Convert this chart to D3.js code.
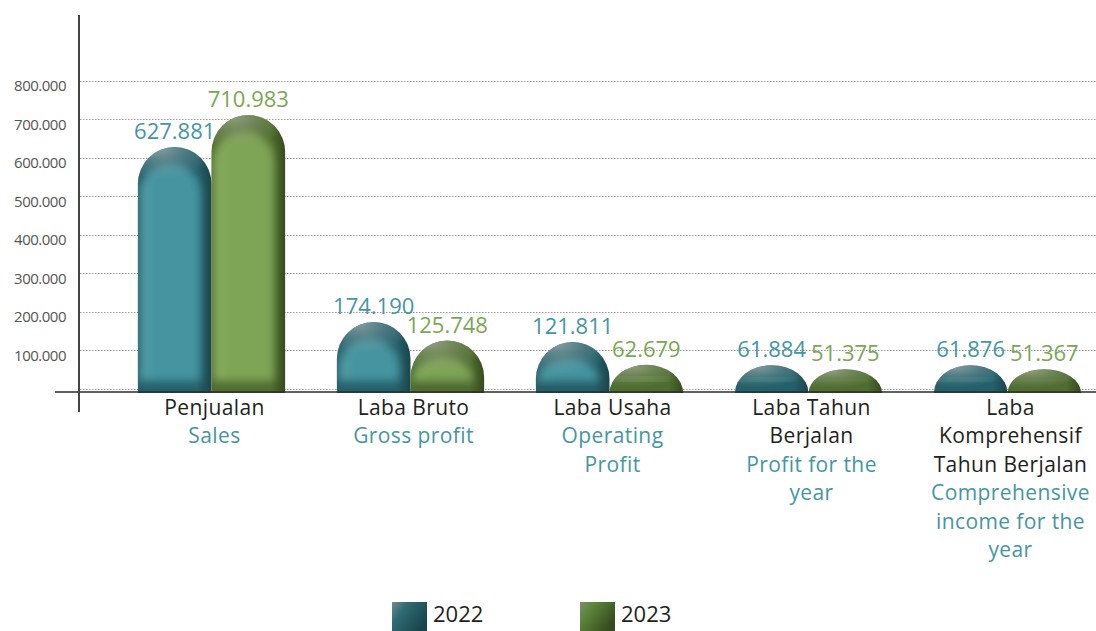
<!DOCTYPE html>
<html><head><meta charset="utf-8">
<script src="https://cdn.jsdelivr.net/npm/d3@7"></script>
<style>html,body{margin:0;padding:0;background:#fff}svg{display:block}</style>
</head><body>
<svg id="chart" width="1096" height="631"></svg>
<script>
const categories = ["Penjualan","Laba Bruto","Laba Usaha","Laba Tahun Berjalan","Laba Komprehensif Tahun Berjalan"];
const labelsId = [["Penjualan"],["Laba Bruto"],["Laba Usaha"],["Laba Tahun","Berjalan"],["Laba","Komprehensif","Tahun Berjalan"]];
const labelsEn = [["Sales"],["Gross profit"],["Operating","Profit"],["Profit for the","year"],["Comprehensive","income for the","year"]];
const seriesNames = ["2022","2023"];
const values2022 = [627881,174190,121811,61884,61876];
const values2023 = [710983,125748,62679,51375,51367];
const yTicks = [100000,200000,300000,400000,500000,600000,700000,800000];

const W=1096,H=631;
const svg=d3.select("#chart");
const loc=d3.formatLocale({decimal:",",thousands:".",grouping:[3],currency:["",""]});
const fmt=loc.format(",d");
const FONT="'Open Sans', sans-serif";
const pal={
  "2022":{text:"#4596a1",main:"#4494a0",left:"#559ea9",dark:"#25606a",edge:"#1b454c",hi:"#90a6a8"},
  "2023":{text:"#7ba653",main:"#7ea455",left:"#8ab062",dark:"#4f6d30",edge:"#364b1f",hi:"#9aa58a"}
};

const x=d3.scaleBand().domain(categories).range([112,1107]).paddingInner(0.26).paddingOuter(0.13);
const xs=d3.scaleBand().domain(seriesNames).range([0,x.bandwidth()]).padding(0);
const y=d3.scaleLinear().domain([0,800000]).range([389,80.7]);

const defs=svg.append("defs");
defs.append("filter").attr("id","blur").attr("x","-20%").attr("y","-20%").attr("width","140%").attr("height","140%")
  .append("feGaussianBlur").attr("stdDeviation",4);
seriesNames.forEach(s=>{
  const p=pal[s];
  // outer: dark with darker right edge
  const g=defs.append("linearGradient").attr("id","outer"+s).attr("x1",0).attr("x2",1).attr("y1",0).attr("y2",0);
  [[0,p.dark],[0.8,p.dark],[1,p.edge]].forEach(([o,c])=>g.append("stop").attr("offset",o).attr("stop-color",c));
  // inner bright body
  const ig=defs.append("linearGradient").attr("id","inner"+s).attr("x1",0).attr("x2",1).attr("y1",0).attr("y2",0);
  [[0,p.left],[0.25,p.main],[1,p.main]].forEach(([o,c])=>ig.append("stop").attr("offset",o).attr("stop-color",c));
  // top-left highlight
  const rg=defs.append("radialGradient").attr("id","hi"+s).attr("cx",0.3).attr("cy",0.05).attr("r",0.75);
  [[0,p.hi,0.85],[0.5,p.hi,0.35],[1,p.hi,0]].forEach(([o,c,a])=>rg.append("stop").attr("offset",o).attr("stop-color",c).attr("stop-opacity",a));
  const lg=defs.append("linearGradient").attr("id","leg"+s).attr("x1",0).attr("x2",1).attr("y1",0).attr("y2",0.6);
  [[0,s==="2022"?"#6f8d91":"#808e6c"],[0.35,s==="2022"?"#2f6a72":"#5a8438"],[1,p.edge]].forEach(([o,c])=>lg.append("stop").attr("offset",o).attr("stop-color",c));
});

// grid
const grid=svg.append("g");
[0,...yTicks].forEach(t=>{
  grid.append("line").attr("x1",80).attr("x2",W).attr("y1",Math.round(y(t))+0.5).attr("y2",Math.round(y(t))+0.5)
    .attr("stroke","#9a9a9a").attr("stroke-width",1).attr("stroke-dasharray","1.5,1.5");
});

// y axis labels
const ya=svg.append("g").attr("transform","translate(66,5)")
  .call(d3.axisLeft(y).tickValues(yTicks).tickSize(0).tickPadding(0).tickFormat(fmt));
ya.select(".domain").remove();
ya.selectAll("text").attr("font-family",FONT).attr("font-size",15).attr("fill","#555").attr("letter-spacing","-0.5");

// bars
const base=y(0)+4;
function barPath(x0,w,top,bottom){
  const h=bottom-top, rx=w/2, ry=Math.max(0,Math.min(rx,h));
  return `M${x0},${bottom}L${x0},${top+ry}A${rx},${ry} 0 0 1 ${x0+w},${top+ry}L${x0+w},${bottom}Z`;
}
const data=[];
categories.forEach((c,i)=>{data.push({c,s:"2022",v:values2022[i]});data.push({c,s:"2023",v:values2023[i]});});
data.forEach((d,k)=>{
  const x0=x(d.c)+xs(d.s), w=xs.bandwidth(), top=y(d.v), h=base-top, ry=Math.min(w/2,h);
  const g=svg.append("g");
  defs.append("clipPath").attr("id","cp"+k).append("path").attr("d",barPath(x0,w,top,base));
  g.append("path").attr("d",barPath(x0,w,top,base)).attr("fill","url(#outer"+d.s+")");
  const gg=g.append("g").attr("clip-path","url(#cp"+k+")");
  const it=top+Math.min(16,h*0.45), ib=base-12;
  if(ib>it) gg.append("path").attr("d",barPath(x0+2,w-13,it,ib)).attr("fill","url(#inner"+d.s+")").attr("filter","url(#blur)");
  gg.append("rect").attr("x",x0).attr("y",top).attr("width",w).attr("height",Math.min(h,ry*1.1))
    .attr("fill","url(#hi"+d.s+")");
  svg.append("text").attr("x",x0+w/2).attr("y",top-8).attr("text-anchor","middle")
    .attr("font-family",FONT).attr("font-size",22).attr("fill",pal[d.s].text).text(fmt(d.v));
});

// axes lines
svg.append("line").attr("x1",55).attr("x2",W).attr("y1",392).attr("y2",392).attr("stroke","#2b2b2b").attr("stroke-width",1.6);
svg.append("line").attr("x1",79).attr("x2",79).attr("y1",15).attr("y2",412).attr("stroke","#444").attr("stroke-width",2);

// category labels
categories.forEach((c,i)=>{
  const cx=x(c)+x.bandwidth()/2+3;
  const lines=labelsId[i].map(t=>({t,col:"#231f20"})).concat(labelsEn[i].map(t=>({t,col:"#4596a1"})));
  lines.forEach((l,j)=>{
    svg.append("text").attr("x",cx).attr("y",414.5+j*28.5).attr("text-anchor","middle")
      .attr("font-family",FONT).attr("font-size",21).attr("letter-spacing","0.4").attr("fill",l.col).text(l.t);
  });
});

// legend
const legX=[392,580];
seriesNames.forEach((s,i)=>{
  svg.append("rect").attr("x",legX[i]).attr("y",602).attr("width",35).attr("height",29).attr("fill","url(#leg"+s+")");
  svg.append("text").attr("x",legX[i]+41).attr("y",622).attr("font-family",FONT).attr("font-size",22).attr("fill","#231f20").text(s);
});
</script>
</body></html>
